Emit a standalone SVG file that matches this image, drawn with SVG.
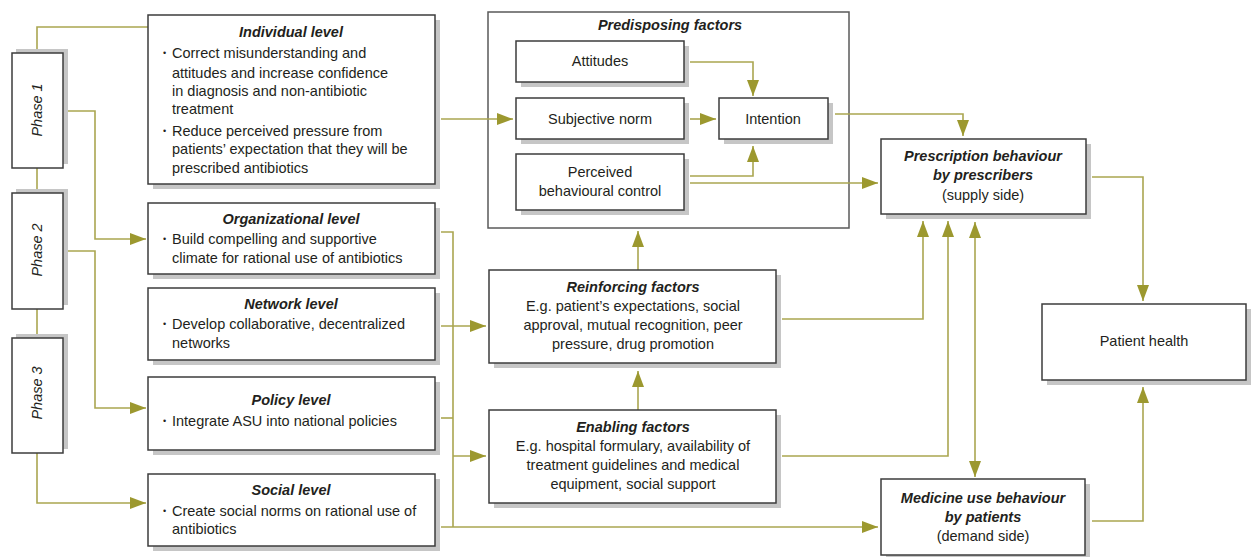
<svg xmlns="http://www.w3.org/2000/svg" width="1253" height="557" viewBox="0 0 1253 557">
<style>
.bx{fill:#fff;stroke:#3c3c3c;stroke-width:1.5}
.sh{fill:#c6c6c6}
.t{font-family:"Liberation Sans",Arial,sans-serif;font-size:14.5px;fill:#231f20}
.ti{font-family:"Liberation Sans",Arial,sans-serif;font-size:14.5px;font-weight:bold;font-style:italic;fill:#231f20}
.ph{font-family:"Liberation Sans",Arial,sans-serif;font-size:14.5px;font-style:italic;fill:#231f20}
.c{text-anchor:middle}
.bul{font-family:"Liberation Sans",Arial,sans-serif;font-size:9px;fill:#231f20}
.ln{fill:none;stroke:#aaa650;stroke-width:1.6}
.ar{marker-end:url(#ah)}
</style>
<defs>
<marker id="ah" viewBox="0 0 16 12" markerWidth="16" markerHeight="12" refX="16" refY="6" orient="auto" markerUnits="userSpaceOnUse">
<path d="M0,0 L16,6 L0,12 z" fill="#9c982f"/>
</marker>
<marker id="as" viewBox="0 0 16 12" markerWidth="16" markerHeight="12" refX="16" refY="6" orient="auto-start-reverse" markerUnits="userSpaceOnUse">
<path d="M0,0 L16,6 L0,12 z" fill="#9c982f"/>
</marker>
</defs>
<rect width="1253" height="557" fill="#fff"/>

<g id="predisposing">
<rect x="488" y="12" width="361" height="216" fill="#fff" stroke="#5a5a5a" stroke-width="1.5"/>
<text class="ti c" x="670" y="30">Predisposing factors</text>
</g>

<g id="connectors">
<path class="ln" d="M37,49 V27 H148"/>
<path class="ln ar" d="M68,111 H95 V239 H146"/>
<path class="ln ar" d="M68,251 H95 V408 H146"/>
<path class="ln" d="M37,168 V189"/>
<path class="ln" d="M37,309 V334"/>
<path class="ln ar" d="M37,453 V503 H146"/>
<path class="ln ar" d="M441,119 H513"/>
<path class="ln" d="M441,232 H453 V527"/>
<path class="ln ar" d="M441,326 H486"/>
<path class="ln" d="M441,418 H453"/>
<path class="ln ar" d="M453,456 H486"/>
<path class="ln ar" d="M441,527 H878"/>
<path class="ln ar" d="M690,62 H753 V96"/>
<path class="ln ar" d="M690,119 H716"/>
<path class="ln ar" d="M690,176 H753 V146"/>
<path class="ln ar" d="M690,183 H878"/>
<path class="ln ar" d="M835,114 H963 V136"/>
<path class="ln ar" d="M638,270 V231"/>
<path class="ln ar" d="M638,410 V371"/>
<path class="ln ar" d="M782,319 H923 V221"/>
<path class="ln ar" d="M782,456 H948 V221"/>
<path class="ln" d="M975,477 V222" marker-start="url(#as)" marker-end="url(#as)"/>
<path class="ln ar" d="M1092,177 H1143 V301"/>
<path class="ln ar" d="M1092,521 H1143 V387"/>
</g>

<g id="phase1">
<rect class="sh" x="16" y="49" width="52" height="115"/>
<rect class="bx" x="12" y="53" width="51" height="115"/>
<text class="ph c" x="42" y="110" transform="rotate(-90 42 110)">Phase 1</text>
</g>
<g id="phase2">
<rect class="sh" x="16" y="189" width="52" height="116"/>
<rect class="bx" x="12" y="193" width="51" height="116"/>
<text class="ph c" x="42" y="250" transform="rotate(-90 42 250)">Phase 2</text>
</g>
<g id="phase3">
<rect class="sh" x="16" y="334" width="52" height="115"/>
<rect class="bx" x="12" y="338" width="51" height="115"/>
<text class="ph c" x="42" y="393" transform="rotate(-90 42 393)">Phase 3</text>
</g>

<g id="individual">
<rect class="sh" x="153" y="20" width="287" height="169"/>
<rect class="bx" x="148" y="15" width="287" height="169"/>
<text class="ti c" x="291" y="37">Individual level</text>
<text class="bul" x="163" y="56">•</text>
<text class="t" x="172" y="58">Correct misunderstanding and</text>
<text class="t" x="172" y="78">attitudes and increase confidence</text>
<text class="t" x="172" y="96">in diagnosis and non-antibiotic</text>
<text class="t" x="172" y="114">treatment</text>
<text class="bul" x="163" y="134">•</text>
<text class="t" x="172" y="136">Reduce perceived pressure from</text>
<text class="t" x="172" y="154">patients’ expectation that they will be</text>
<text class="t" x="172" y="173">prescribed antibiotics</text>
</g>

<g id="organizational">
<rect class="sh" x="153" y="208" width="287" height="71"/>
<rect class="bx" x="148" y="203" width="287" height="71"/>
<text class="ti c" x="291" y="224">Organizational level</text>
<text class="bul" x="163" y="242">•</text>
<text class="t" x="172" y="244">Build compelling and supportive</text>
<text class="t" x="172" y="263">climate for rational use of antibiotics</text>
</g>

<g id="network">
<rect class="sh" x="153" y="293" width="287" height="72"/>
<rect class="bx" x="148" y="288" width="287" height="72"/>
<text class="ti c" x="291" y="309">Network level</text>
<text class="bul" x="163" y="327">•</text>
<text class="t" x="172" y="329">Develop collaborative, decentralized</text>
<text class="t" x="172" y="348">networks</text>
</g>

<g id="policy">
<rect class="sh" x="153" y="382" width="287" height="73"/>
<rect class="bx" x="148" y="377" width="287" height="73"/>
<text class="ti c" x="291" y="405">Policy level</text>
<text class="bul" x="163" y="424">•</text>
<text class="t" x="172" y="426">Integrate ASU into national policies</text>
</g>

<g id="social">
<rect class="sh" x="153" y="479" width="287" height="72"/>
<rect class="bx" x="148" y="474" width="287" height="72"/>
<text class="ti c" x="291" y="495">Social level</text>
<text class="bul" x="163" y="514">•</text>
<text class="t" x="172" y="516">Create social norms on rational use of</text>
<text class="t" x="172" y="534">antibiotics</text>
</g>

<g id="attitudes">
<rect class="sh" x="521" y="46" width="168" height="41"/>
<rect class="bx" x="516" y="41" width="168" height="41"/>
<text class="t c" x="600" y="66">Attitudes</text>
</g>
<g id="subjective">
<rect class="sh" x="521" y="103" width="168" height="41"/>
<rect class="bx" x="516" y="98" width="168" height="41"/>
<text class="t c" x="600" y="124">Subjective norm</text>
</g>
<g id="perceived">
<rect class="sh" x="521" y="159" width="168" height="56"/>
<rect class="bx" x="516" y="154" width="168" height="56"/>
<text class="t c" x="600" y="177">Perceived</text>
<text class="t c" x="600" y="196">behavioural control</text>
</g>
<g id="intention">
<rect class="sh" x="724" y="103" width="109" height="41"/>
<rect class="bx" x="719" y="98" width="109" height="41"/>
<text class="t c" x="773" y="124">Intention</text>
</g>

<g id="reinforcing">
<rect class="sh" x="494" y="275" width="287" height="93"/>
<rect class="bx" x="489" y="270" width="287" height="93"/>
<text class="ti c" x="633" y="292">Reinforcing factors</text>
<text class="t c" x="633" y="311">E.g. patient’s expectations, social</text>
<text class="t c" x="633" y="330">approval, mutual recognition, peer</text>
<text class="t c" x="633" y="349">pressure, drug promotion</text>
</g>

<g id="enabling">
<rect class="sh" x="494" y="415" width="287" height="93"/>
<rect class="bx" x="489" y="410" width="287" height="93"/>
<text class="ti c" x="633" y="432">Enabling factors</text>
<text class="t c" x="633" y="451">E.g. hospital formulary, availability of</text>
<text class="t c" x="633" y="470">treatment guidelines and medical</text>
<text class="t c" x="633" y="489">equipment, social support</text>
</g>

<g id="prescription">
<rect class="sh" x="886" y="144" width="205" height="75"/>
<rect class="bx" x="881" y="139" width="205" height="75"/>
<text class="ti c" x="983" y="161">Prescription behaviour</text>
<text class="ti c" x="983" y="180">by prescribers</text>
<text class="t c" x="983" y="200">(supply side)</text>
</g>

<g id="patienthealth">
<rect class="sh" x="1047" y="309" width="204" height="76"/>
<rect class="bx" x="1042" y="304" width="204" height="76"/>
<text class="t c" x="1144" y="346">Patient health</text>
</g>

<g id="medicine">
<rect class="sh" x="886" y="484" width="204" height="76"/>
<rect class="bx" x="881" y="479" width="204" height="76"/>
<text class="ti c" x="983" y="503">Medicine use behaviour</text>
<text class="ti c" x="983" y="522">by patients</text>
<text class="t c" x="983" y="541">(demand side)</text>
</g>
</svg>
